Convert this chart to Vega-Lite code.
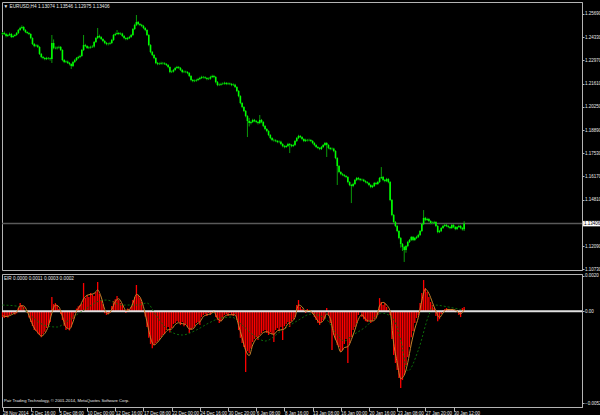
{
"$schema": "https://vega.github.io/schema/vega-lite/v6.json",
"background": "#000000",
"padding": {"left": 0, "top": 1, "right": 0, "bottom": 0},
"spacing": 4,
"bounds": "flush",
"config": {
  "view": {"stroke": "#b4b4b4", "strokeWidth": 1},
  "axis": {"grid": false, "domainColor": "#b4b4b4", "tickColor": "#b4b4b4", "labelColor": "#e8e8e8", "labelFont": "Liberation Sans", "labelFontSize": 4.5, "labelOverlap": false, "labelBound": false, "title": null},
  "text": {"font": "Liberation Sans", "fontSize": 4.7, "color": "#e8e8e8"}
},
"datasets": {
"px": [
{"i":0,"o":1.2450,"h":1.2464,"l":1.2444,"c":1.2458},
{"i":1,"o":1.2458,"h":1.2466,"l":1.2446,"c":1.2452},
{"i":2,"o":1.2452,"h":1.2458,"l":1.2432,"c":1.2440},
{"i":3,"o":1.2440,"h":1.2453,"l":1.2434,"c":1.2446},
{"i":4,"o":1.2446,"h":1.2460,"l":1.2440,"c":1.2452},
{"i":5,"o":1.2452,"h":1.2457,"l":1.2428,"c":1.2434},
{"i":6,"o":1.2434,"h":1.2448,"l":1.2429,"c":1.2440},
{"i":7,"o":1.2440,"h":1.2452,"l":1.2436,"c":1.2446},
{"i":8,"o":1.2446,"h":1.2463,"l":1.2441,"c":1.2458},
{"i":9,"o":1.2458,"h":1.2481,"l":1.2452,"c":1.2475},
{"i":10,"o":1.2475,"h":1.2494,"l":1.2470,"c":1.2487},
{"i":11,"o":1.2487,"h":1.2502,"l":1.2481,"c":1.2493},
{"i":12,"o":1.2493,"h":1.2498,"l":1.2469,"c":1.2475},
{"i":13,"o":1.2475,"h":1.2480,"l":1.2457,"c":1.2463},
{"i":14,"o":1.2463,"h":1.2468,"l":1.2451,"c":1.2458},
{"i":15,"o":1.2458,"h":1.2464,"l":1.2445,"c":1.2452},
{"i":16,"o":1.2452,"h":1.2456,"l":1.2421,"c":1.2428},
{"i":17,"o":1.2428,"h":1.2432,"l":1.2387,"c":1.2393},
{"i":18,"o":1.2393,"h":1.2399,"l":1.2374,"c":1.2381},
{"i":19,"o":1.2381,"h":1.2392,"l":1.2376,"c":1.2385},
{"i":20,"o":1.2385,"h":1.2390,"l":1.2370,"c":1.2376},
{"i":21,"o":1.2376,"h":1.2380,"l":1.2329,"c":1.2335},
{"i":22,"o":1.2335,"h":1.2340,"l":1.2310,"c":1.2317},
{"i":23,"o":1.2317,"h":1.2323,"l":1.2304,"c":1.2311},
{"i":24,"o":1.2311,"h":1.2316,"l":1.2298,"c":1.2305},
{"i":25,"o":1.2305,"h":1.2318,"l":1.2299,"c":1.2311},
{"i":26,"o":1.2311,"h":1.2317,"l":1.2302,"c":1.2309},
{"i":27,"o":1.2309,"h":1.2314,"l":1.2296,"c":1.2305},
{"i":28,"o":1.2305,"h":1.2446,"l":1.2282,"c":1.2399},
{"i":29,"o":1.2399,"h":1.2420,"l":1.2362,"c":1.2370},
{"i":30,"o":1.2370,"h":1.2378,"l":1.2362,"c":1.2368},
{"i":31,"o":1.2368,"h":1.2379,"l":1.2361,"c":1.2372},
{"i":32,"o":1.2372,"h":1.2383,"l":1.2366,"c":1.2376},
{"i":33,"o":1.2376,"h":1.2381,"l":1.2352,"c":1.2358},
{"i":34,"o":1.2358,"h":1.2362,"l":1.2292,"c":1.2299},
{"i":35,"o":1.2299,"h":1.2305,"l":1.2281,"c":1.2288},
{"i":36,"o":1.2288,"h":1.2297,"l":1.2282,"c":1.2290},
{"i":37,"o":1.2290,"h":1.2296,"l":1.2276,"c":1.2282},
{"i":38,"o":1.2282,"h":1.2288,"l":1.2268,"c":1.2276},
{"i":39,"o":1.2276,"h":1.2280,"l":1.2247,"c":1.2264},
{"i":40,"o":1.2264,"h":1.2294,"l":1.2258,"c":1.2288},
{"i":41,"o":1.2288,"h":1.2306,"l":1.2282,"c":1.2299},
{"i":42,"o":1.2299,"h":1.2317,"l":1.2293,"c":1.2311},
{"i":43,"o":1.2311,"h":1.2324,"l":1.2305,"c":1.2317},
{"i":44,"o":1.2317,"h":1.2330,"l":1.2310,"c":1.2323},
{"i":45,"o":1.2323,"h":1.2364,"l":1.2318,"c":1.2358},
{"i":46,"o":1.2358,"h":1.2446,"l":1.2352,"c":1.2387},
{"i":47,"o":1.2387,"h":1.2394,"l":1.2375,"c":1.2381},
{"i":48,"o":1.2381,"h":1.2386,"l":1.2364,"c":1.2370},
{"i":49,"o":1.2370,"h":1.2380,"l":1.2363,"c":1.2372},
{"i":50,"o":1.2372,"h":1.2383,"l":1.2366,"c":1.2376},
{"i":51,"o":1.2376,"h":1.2386,"l":1.2370,"c":1.2378},
{"i":52,"o":1.2378,"h":1.2411,"l":1.2372,"c":1.2405},
{"i":53,"o":1.2405,"h":1.2434,"l":1.2399,"c":1.2428},
{"i":54,"o":1.2428,"h":1.2487,"l":1.2422,"c":1.2440},
{"i":55,"o":1.2440,"h":1.2448,"l":1.2427,"c":1.2434},
{"i":56,"o":1.2434,"h":1.2439,"l":1.2416,"c":1.2422},
{"i":57,"o":1.2422,"h":1.2427,"l":1.2404,"c":1.2411},
{"i":58,"o":1.2411,"h":1.2416,"l":1.2392,"c":1.2399},
{"i":59,"o":1.2399,"h":1.2405,"l":1.2386,"c":1.2393},
{"i":60,"o":1.2393,"h":1.2401,"l":1.2385,"c":1.2395},
{"i":61,"o":1.2395,"h":1.2406,"l":1.2389,"c":1.2399},
{"i":62,"o":1.2399,"h":1.2423,"l":1.2393,"c":1.2417},
{"i":63,"o":1.2417,"h":1.2452,"l":1.2411,"c":1.2446},
{"i":64,"o":1.2446,"h":1.2460,"l":1.2440,"c":1.2452},
{"i":65,"o":1.2452,"h":1.2475,"l":1.2446,"c":1.2458},
{"i":66,"o":1.2458,"h":1.2464,"l":1.2445,"c":1.2452},
{"i":67,"o":1.2452,"h":1.2461,"l":1.2446,"c":1.2454},
{"i":68,"o":1.2454,"h":1.2459,"l":1.2434,"c":1.2440},
{"i":69,"o":1.2440,"h":1.2446,"l":1.2421,"c":1.2428},
{"i":70,"o":1.2428,"h":1.2433,"l":1.2415,"c":1.2422},
{"i":71,"o":1.2422,"h":1.2435,"l":1.2416,"c":1.2428},
{"i":72,"o":1.2428,"h":1.2441,"l":1.2422,"c":1.2434},
{"i":73,"o":1.2434,"h":1.2452,"l":1.2429,"c":1.2446},
{"i":74,"o":1.2446,"h":1.2487,"l":1.2440,"c":1.2481},
{"i":75,"o":1.2481,"h":1.2512,"l":1.2475,"c":1.2505},
{"i":76,"o":1.2505,"h":1.2563,"l":1.2499,"c":1.2522},
{"i":77,"o":1.2522,"h":1.2528,"l":1.2503,"c":1.2510},
{"i":78,"o":1.2510,"h":1.2516,"l":1.2498,"c":1.2505},
{"i":79,"o":1.2505,"h":1.2511,"l":1.2492,"c":1.2499},
{"i":80,"o":1.2499,"h":1.2505,"l":1.2480,"c":1.2487},
{"i":81,"o":1.2487,"h":1.2492,"l":1.2468,"c":1.2475},
{"i":82,"o":1.2475,"h":1.2480,"l":1.2440,"c":1.2446},
{"i":83,"o":1.2446,"h":1.2451,"l":1.2380,"c":1.2387},
{"i":84,"o":1.2387,"h":1.2392,"l":1.2339,"c":1.2346},
{"i":85,"o":1.2346,"h":1.2352,"l":1.2322,"c":1.2329},
{"i":86,"o":1.2329,"h":1.2334,"l":1.2304,"c":1.2311},
{"i":87,"o":1.2311,"h":1.2316,"l":1.2275,"c":1.2282},
{"i":88,"o":1.2282,"h":1.2288,"l":1.2269,"c":1.2276},
{"i":89,"o":1.2276,"h":1.2285,"l":1.2270,"c":1.2278},
{"i":90,"o":1.2278,"h":1.2289,"l":1.2272,"c":1.2282},
{"i":91,"o":1.2282,"h":1.2288,"l":1.2273,"c":1.2280},
{"i":92,"o":1.2280,"h":1.2286,"l":1.2270,"c":1.2276},
{"i":93,"o":1.2276,"h":1.2281,"l":1.2264,"c":1.2270},
{"i":94,"o":1.2270,"h":1.2275,"l":1.2251,"c":1.2258},
{"i":95,"o":1.2258,"h":1.2262,"l":1.2222,"c":1.2229},
{"i":96,"o":1.2229,"h":1.2238,"l":1.2223,"c":1.2231},
{"i":97,"o":1.2231,"h":1.2247,"l":1.2226,"c":1.2241},
{"i":98,"o":1.2241,"h":1.2259,"l":1.2236,"c":1.2253},
{"i":99,"o":1.2253,"h":1.2265,"l":1.2247,"c":1.2258},
{"i":100,"o":1.2258,"h":1.2264,"l":1.2247,"c":1.2253},
{"i":101,"o":1.2253,"h":1.2258,"l":1.2235,"c":1.2241},
{"i":102,"o":1.2241,"h":1.2246,"l":1.2222,"c":1.2229},
{"i":103,"o":1.2229,"h":1.2238,"l":1.2223,"c":1.2231},
{"i":104,"o":1.2231,"h":1.2237,"l":1.2222,"c":1.2229},
{"i":105,"o":1.2229,"h":1.2234,"l":1.2216,"c":1.2223},
{"i":106,"o":1.2223,"h":1.2228,"l":1.2199,"c":1.2206},
{"i":107,"o":1.2206,"h":1.2211,"l":1.2175,"c":1.2182},
{"i":108,"o":1.2182,"h":1.2188,"l":1.2169,"c":1.2176},
{"i":109,"o":1.2176,"h":1.2185,"l":1.2170,"c":1.2178},
{"i":110,"o":1.2178,"h":1.2189,"l":1.2172,"c":1.2182},
{"i":111,"o":1.2182,"h":1.2195,"l":1.2176,"c":1.2188},
{"i":112,"o":1.2188,"h":1.2201,"l":1.2182,"c":1.2194},
{"i":113,"o":1.2194,"h":1.2207,"l":1.2188,"c":1.2200},
{"i":114,"o":1.2200,"h":1.2206,"l":1.2191,"c":1.2198},
{"i":115,"o":1.2198,"h":1.2204,"l":1.2188,"c":1.2194},
{"i":116,"o":1.2194,"h":1.2199,"l":1.2181,"c":1.2188},
{"i":117,"o":1.2188,"h":1.2197,"l":1.2182,"c":1.2190},
{"i":118,"o":1.2190,"h":1.2207,"l":1.2184,"c":1.2200},
{"i":119,"o":1.2200,"h":1.2213,"l":1.2194,"c":1.2206},
{"i":120,"o":1.2206,"h":1.2212,"l":1.2193,"c":1.2200},
{"i":121,"o":1.2200,"h":1.2205,"l":1.2163,"c":1.2170},
{"i":122,"o":1.2170,"h":1.2176,"l":1.2146,"c":1.2153},
{"i":123,"o":1.2153,"h":1.2162,"l":1.2147,"c":1.2155},
{"i":124,"o":1.2155,"h":1.2166,"l":1.2149,"c":1.2159},
{"i":125,"o":1.2159,"h":1.2168,"l":1.2153,"c":1.2161},
{"i":126,"o":1.2161,"h":1.2172,"l":1.2155,"c":1.2165},
{"i":127,"o":1.2165,"h":1.2170,"l":1.2152,"c":1.2159},
{"i":128,"o":1.2159,"h":1.2168,"l":1.2153,"c":1.2161},
{"i":129,"o":1.2161,"h":1.2167,"l":1.2152,"c":1.2159},
{"i":130,"o":1.2159,"h":1.2164,"l":1.2146,"c":1.2153},
{"i":131,"o":1.2153,"h":1.2162,"l":1.2147,"c":1.2155},
{"i":132,"o":1.2155,"h":1.2160,"l":1.2135,"c":1.2141},
{"i":133,"o":1.2141,"h":1.2146,"l":1.2111,"c":1.2118},
{"i":134,"o":1.2118,"h":1.2123,"l":1.2081,"c":1.2088},
{"i":135,"o":1.2088,"h":1.2093,"l":1.2040,"c":1.2047},
{"i":136,"o":1.2047,"h":1.2052,"l":1.2017,"c":1.2024},
{"i":137,"o":1.2024,"h":1.2029,"l":1.1994,"c":1.2001},
{"i":138,"o":1.2001,"h":1.2006,"l":1.1964,"c":1.1971},
{"i":139,"o":1.1971,"h":1.1976,"l":1.1848,"c":1.1942},
{"i":140,"o":1.1942,"h":1.1960,"l":1.1910,"c":1.1930},
{"i":141,"o":1.1930,"h":1.1944,"l":1.1922,"c":1.1936},
{"i":142,"o":1.1936,"h":1.1955,"l":1.1930,"c":1.1948},
{"i":143,"o":1.1948,"h":1.1954,"l":1.1935,"c":1.1942},
{"i":144,"o":1.1942,"h":1.1948,"l":1.1929,"c":1.1936},
{"i":145,"o":1.1936,"h":1.1942,"l":1.1922,"c":1.1930},
{"i":146,"o":1.1930,"h":1.1977,"l":1.1924,"c":1.1948},
{"i":147,"o":1.1948,"h":1.1954,"l":1.1929,"c":1.1936},
{"i":148,"o":1.1936,"h":1.1941,"l":1.1906,"c":1.1913},
{"i":149,"o":1.1913,"h":1.1918,"l":1.1888,"c":1.1895},
{"i":150,"o":1.1895,"h":1.1900,"l":1.1876,"c":1.1883},
{"i":151,"o":1.1883,"h":1.1888,"l":1.1853,"c":1.1860},
{"i":152,"o":1.1860,"h":1.1865,"l":1.1835,"c":1.1842},
{"i":153,"o":1.1842,"h":1.1847,"l":1.1824,"c":1.1831},
{"i":154,"o":1.1831,"h":1.1838,"l":1.1821,"c":1.1829},
{"i":155,"o":1.1829,"h":1.1835,"l":1.1818,"c":1.1825},
{"i":156,"o":1.1825,"h":1.1830,"l":1.1812,"c":1.1819},
{"i":157,"o":1.1819,"h":1.1828,"l":1.1812,"c":1.1821},
{"i":158,"o":1.1821,"h":1.1826,"l":1.1800,"c":1.1807},
{"i":159,"o":1.1807,"h":1.1812,"l":1.1788,"c":1.1795},
{"i":160,"o":1.1795,"h":1.1801,"l":1.1782,"c":1.1790},
{"i":161,"o":1.1790,"h":1.1802,"l":1.1784,"c":1.1795},
{"i":162,"o":1.1795,"h":1.1814,"l":1.1789,"c":1.1807},
{"i":163,"o":1.1807,"h":1.1813,"l":1.1754,"c":1.1801},
{"i":164,"o":1.1801,"h":1.1807,"l":1.1788,"c":1.1795},
{"i":165,"o":1.1795,"h":1.1808,"l":1.1789,"c":1.1801},
{"i":166,"o":1.1801,"h":1.1831,"l":1.1795,"c":1.1825},
{"i":167,"o":1.1825,"h":1.1848,"l":1.1819,"c":1.1842},
{"i":168,"o":1.1842,"h":1.1861,"l":1.1836,"c":1.1854},
{"i":169,"o":1.1854,"h":1.1860,"l":1.1841,"c":1.1848},
{"i":170,"o":1.1848,"h":1.1853,"l":1.1829,"c":1.1836},
{"i":171,"o":1.1836,"h":1.1841,"l":1.1818,"c":1.1825},
{"i":172,"o":1.1825,"h":1.1838,"l":1.1819,"c":1.1831},
{"i":173,"o":1.1831,"h":1.1837,"l":1.1822,"c":1.1829},
{"i":174,"o":1.1829,"h":1.1838,"l":1.1823,"c":1.1831},
{"i":175,"o":1.1831,"h":1.1836,"l":1.1818,"c":1.1825},
{"i":176,"o":1.1825,"h":1.1830,"l":1.1806,"c":1.1813},
{"i":177,"o":1.1813,"h":1.1818,"l":1.1794,"c":1.1801},
{"i":178,"o":1.1801,"h":1.1806,"l":1.1783,"c":1.1790},
{"i":179,"o":1.1790,"h":1.1795,"l":1.1777,"c":1.1784},
{"i":180,"o":1.1784,"h":1.1789,"l":1.1771,"c":1.1778},
{"i":181,"o":1.1778,"h":1.1796,"l":1.1772,"c":1.1790},
{"i":182,"o":1.1790,"h":1.1807,"l":1.1784,"c":1.1801},
{"i":183,"o":1.1801,"h":1.1819,"l":1.1795,"c":1.1813},
{"i":184,"o":1.1813,"h":1.1818,"l":1.1731,"c":1.1801},
{"i":185,"o":1.1801,"h":1.1806,"l":1.1777,"c":1.1784},
{"i":186,"o":1.1784,"h":1.1789,"l":1.1771,"c":1.1778},
{"i":187,"o":1.1778,"h":1.1787,"l":1.1771,"c":1.1780},
{"i":188,"o":1.1780,"h":1.1785,"l":1.1759,"c":1.1766},
{"i":189,"o":1.1766,"h":1.1771,"l":1.1718,"c":1.1725},
{"i":190,"o":1.1725,"h":1.1730,"l":1.1567,"c":1.1678},
{"i":191,"o":1.1678,"h":1.1684,"l":1.1636,"c":1.1643},
{"i":192,"o":1.1643,"h":1.1648,"l":1.1624,"c":1.1631},
{"i":193,"o":1.1631,"h":1.1637,"l":1.1619,"c":1.1626},
{"i":194,"o":1.1626,"h":1.1631,"l":1.1613,"c":1.1620},
{"i":195,"o":1.1620,"h":1.1625,"l":1.1607,"c":1.1614},
{"i":196,"o":1.1614,"h":1.1619,"l":1.1577,"c":1.1584},
{"i":197,"o":1.1584,"h":1.1589,"l":1.1560,"c":1.1567},
{"i":198,"o":1.1567,"h":1.1573,"l":1.1461,"c":1.1561},
{"i":199,"o":1.1561,"h":1.1580,"l":1.1554,"c":1.1573},
{"i":200,"o":1.1573,"h":1.1602,"l":1.1567,"c":1.1596},
{"i":201,"o":1.1596,"h":1.1614,"l":1.1590,"c":1.1608},
{"i":202,"o":1.1608,"h":1.1614,"l":1.1595,"c":1.1602},
{"i":203,"o":1.1602,"h":1.1608,"l":1.1589,"c":1.1596},
{"i":204,"o":1.1596,"h":1.1605,"l":1.1590,"c":1.1598},
{"i":205,"o":1.1598,"h":1.1603,"l":1.1584,"c":1.1590},
{"i":206,"o":1.1590,"h":1.1595,"l":1.1577,"c":1.1584},
{"i":207,"o":1.1584,"h":1.1590,"l":1.1572,"c":1.1579},
{"i":208,"o":1.1579,"h":1.1584,"l":1.1560,"c":1.1567},
{"i":209,"o":1.1567,"h":1.1572,"l":1.1548,"c":1.1555},
{"i":210,"o":1.1555,"h":1.1568,"l":1.1549,"c":1.1561},
{"i":211,"o":1.1561,"h":1.1585,"l":1.1555,"c":1.1579},
{"i":212,"o":1.1579,"h":1.1585,"l":1.1566,"c":1.1573},
{"i":213,"o":1.1573,"h":1.1591,"l":1.1567,"c":1.1584},
{"i":214,"o":1.1584,"h":1.1614,"l":1.1578,"c":1.1608},
{"i":215,"o":1.1608,"h":1.1672,"l":1.1602,"c":1.1614},
{"i":216,"o":1.1614,"h":1.1620,"l":1.1589,"c":1.1596},
{"i":217,"o":1.1596,"h":1.1602,"l":1.1583,"c":1.1590},
{"i":218,"o":1.1590,"h":1.1609,"l":1.1584,"c":1.1602},
{"i":219,"o":1.1602,"h":1.1607,"l":1.1577,"c":1.1584},
{"i":220,"o":1.1584,"h":1.1590,"l":1.1472,"c":1.1479},
{"i":221,"o":1.1479,"h":1.1485,"l":1.1384,"c":1.1391},
{"i":222,"o":1.1391,"h":1.1397,"l":1.1343,"c":1.1350},
{"i":223,"o":1.1350,"h":1.1356,"l":1.1320,"c":1.1327},
{"i":224,"o":1.1327,"h":1.1333,"l":1.1290,"c":1.1297},
{"i":225,"o":1.1297,"h":1.1302,"l":1.1249,"c":1.1256},
{"i":226,"o":1.1256,"h":1.1262,"l":1.1200,"c":1.1221},
{"i":227,"o":1.1221,"h":1.1227,"l":1.1180,"c":1.1204},
{"i":228,"o":1.1204,"h":1.1210,"l":1.1116,"c":1.1186},
{"i":229,"o":1.1186,"h":1.1215,"l":1.1170,"c":1.1209},
{"i":230,"o":1.1209,"h":1.1239,"l":1.1202,"c":1.1233},
{"i":231,"o":1.1233,"h":1.1251,"l":1.1227,"c":1.1245},
{"i":232,"o":1.1245,"h":1.1268,"l":1.1239,"c":1.1262},
{"i":233,"o":1.1262,"h":1.1268,"l":1.1238,"c":1.1245},
{"i":234,"o":1.1245,"h":1.1263,"l":1.1239,"c":1.1256},
{"i":235,"o":1.1256,"h":1.1269,"l":1.1250,"c":1.1262},
{"i":236,"o":1.1262,"h":1.1281,"l":1.1256,"c":1.1274},
{"i":237,"o":1.1274,"h":1.1303,"l":1.1268,"c":1.1297},
{"i":238,"o":1.1297,"h":1.1344,"l":1.1291,"c":1.1338},
{"i":239,"o":1.1338,"h":1.1420,"l":1.1332,"c":1.1374},
{"i":240,"o":1.1374,"h":1.1380,"l":1.1355,"c":1.1362},
{"i":241,"o":1.1362,"h":1.1375,"l":1.1356,"c":1.1368},
{"i":242,"o":1.1368,"h":1.1373,"l":1.1349,"c":1.1356},
{"i":243,"o":1.1356,"h":1.1361,"l":1.1337,"c":1.1344},
{"i":244,"o":1.1344,"h":1.1353,"l":1.1338,"c":1.1346},
{"i":245,"o":1.1346,"h":1.1357,"l":1.1340,"c":1.1350},
{"i":246,"o":1.1350,"h":1.1355,"l":1.1320,"c":1.1327},
{"i":247,"o":1.1327,"h":1.1332,"l":1.1284,"c":1.1291},
{"i":248,"o":1.1291,"h":1.1304,"l":1.1285,"c":1.1297},
{"i":249,"o":1.1297,"h":1.1321,"l":1.1291,"c":1.1315},
{"i":250,"o":1.1315,"h":1.1333,"l":1.1309,"c":1.1327},
{"i":251,"o":1.1327,"h":1.1340,"l":1.1321,"c":1.1333},
{"i":252,"o":1.1333,"h":1.1339,"l":1.1320,"c":1.1327},
{"i":253,"o":1.1327,"h":1.1332,"l":1.1314,"c":1.1321},
{"i":254,"o":1.1321,"h":1.1326,"l":1.1308,"c":1.1315},
{"i":255,"o":1.1315,"h":1.1339,"l":1.1309,"c":1.1333},
{"i":256,"o":1.1333,"h":1.1338,"l":1.1314,"c":1.1321},
{"i":257,"o":1.1321,"h":1.1326,"l":1.1302,"c":1.1309},
{"i":258,"o":1.1309,"h":1.1327,"l":1.1303,"c":1.1321},
{"i":259,"o":1.1321,"h":1.1334,"l":1.1315,"c":1.1327},
{"i":260,"o":1.1327,"h":1.1332,"l":1.1308,"c":1.1315},
{"i":261,"o":1.1315,"h":1.1320,"l":1.1300,"c":1.1307},
{"i":262,"o":1.13074,"h":1.13546,"l":1.12975,"c":1.13406}
],
"ind": [
{"i":0,"h":-0.00033},{"i":1,"h":-0.00038},{"i":2,"h":-0.00027},{"i":3,"h":-0.00035},{"i":4,"h":-0.00021},
{"i":5,"h":-0.00016},{"i":6,"h":-0.0001},{"i":7,"h":-0.00018},{"i":8,"h":-0.00012},{"i":9,"h":0.0002},
{"i":10,"h":0.00046},{"i":11,"h":0.00035},{"i":12,"h":0.00024},{"i":13,"h":0.00005},{"i":14,"h":-0.00008},
{"i":15,"h":-0.00035},{"i":16,"h":-0.0006},{"i":17,"h":-0.00084},{"i":18,"h":-0.00106},{"i":19,"h":-0.00112},
{"i":20,"h":-0.00125},{"i":21,"h":-0.00134},{"i":22,"h":-0.00146},{"i":23,"h":-0.0013},{"i":24,"h":-0.00115},
{"i":25,"h":-0.00095},{"i":26,"h":-0.00078},{"i":27,"h":-0.0006},{"i":28,"h":0.0008},{"i":29,"h":0.0004},
{"i":30,"h":0.00046},{"i":31,"h":0.00035},{"i":32,"h":0.00012},{"i":33,"h":-0.00015},{"i":34,"h":-0.0005},
{"i":35,"h":-0.00082},{"i":36,"h":-0.00106},{"i":37,"h":-0.00094},{"i":38,"h":-0.00108},{"i":39,"h":-0.0009},
{"i":40,"h":-0.00045},{"i":41,"h":-0.00008},{"i":42,"h":0.00015},{"i":43,"h":0.00028},{"i":44,"h":0.00035},
{"i":45,"h":0.00042},{"i":46,"h":0.00159},{"i":47,"h":0.00074},{"i":48,"h":0.00091},{"i":49,"h":0.0008},
{"i":50,"h":0.00103},{"i":51,"h":0.00095},{"i":52,"h":0.00086},{"i":53,"h":0.00108},{"i":54,"h":0.00165},
{"i":55,"h":0.00097},{"i":56,"h":0.00063},{"i":57,"h":0.0004},{"i":58,"h":-0.00012},{"i":59,"h":-0.00021},
{"i":60,"h":-0.00015},{"i":61,"h":-0.00008},{"i":62,"h":0.0003},{"i":63,"h":0.00058},{"i":64,"h":0.00068},
{"i":65,"h":0.00086},{"i":66,"h":0.00063},{"i":67,"h":0.00046},{"i":68,"h":0.00035},{"i":69,"h":0.0001},
{"i":70,"h":-0.0001},{"i":71,"h":0.00015},{"i":72,"h":0.00008},{"i":73,"h":0.00024},{"i":74,"h":0.00063},
{"i":75,"h":0.0008},{"i":76,"h":0.00148},{"i":77,"h":0.00091},{"i":78,"h":0.00074},{"i":79,"h":0.00052},
{"i":80,"h":0.00005},{"i":81,"h":-0.0003},{"i":82,"h":-0.00089},{"i":83,"h":-0.0015},{"i":84,"h":-0.00185},
{"i":85,"h":-0.00208},{"i":86,"h":-0.00191},{"i":87,"h":-0.00179},{"i":88,"h":-0.0017},{"i":89,"h":-0.00162},
{"i":90,"h":-0.00146},{"i":91,"h":-0.00134},{"i":92,"h":-0.00128},{"i":93,"h":-0.00106},{"i":94,"h":-0.00089},
{"i":95,"h":-0.0012},{"i":96,"h":-0.00095},{"i":97,"h":-0.00072},{"i":98,"h":-0.00067},{"i":99,"h":-0.00056},
{"i":100,"h":-0.00061},{"i":101,"h":-0.00078},{"i":102,"h":-0.00061},{"i":103,"h":-0.00084},{"i":104,"h":-0.00072},
{"i":105,"h":-0.00089},{"i":106,"h":-0.00123},{"i":107,"h":-0.00106},{"i":108,"h":-0.00095},{"i":109,"h":-0.00084},
{"i":110,"h":-0.00067},{"i":111,"h":-0.00061},{"i":112,"h":-0.00078},{"i":113,"h":-0.00033},{"i":114,"h":-0.00021},
{"i":115,"h":-0.00016},{"i":116,"h":-0.00027},{"i":117,"h":-0.0001},{"i":118,"h":-0.00021},{"i":119,"h":-0.0001},
{"i":120,"h":0.00007},{"i":121,"h":-0.00033},{"i":122,"h":-0.0005},{"i":123,"h":-0.00067},{"i":124,"h":-0.00056},
{"i":125,"h":-0.00038},{"i":126,"h":-0.00021},{"i":127,"h":-0.00016},{"i":128,"h":-0.00027},{"i":129,"h":-0.0001},
{"i":130,"h":-0.00021},{"i":131,"h":-0.00027},{"i":132,"h":-0.00016},{"i":133,"h":-0.0005},{"i":134,"h":-0.00106},
{"i":135,"h":-0.0015},{"i":136,"h":-0.00179},{"i":137,"h":-0.00202},{"i":138,"h":-0.00342},{"i":139,"h":-0.00225},
{"i":140,"h":-0.00236},{"i":141,"h":-0.0021},{"i":142,"h":-0.00174},{"i":143,"h":-0.00156},{"i":144,"h":-0.00146},
{"i":145,"h":-0.00162},{"i":146,"h":-0.00134},{"i":147,"h":-0.00123},{"i":148,"h":-0.00112},{"i":149,"h":-0.00106},
{"i":150,"h":-0.00123},{"i":151,"h":-0.00134},{"i":152,"h":-0.00118},{"i":153,"h":-0.00128},{"i":154,"h":-0.00174},
{"i":155,"h":-0.00106},{"i":156,"h":-0.00095},{"i":157,"h":-0.00112},{"i":158,"h":-0.00089},{"i":159,"h":-0.00162},
{"i":160,"h":-0.00084},{"i":161,"h":-0.00072},{"i":162,"h":-0.00061},{"i":163,"h":-0.00089},{"i":164,"h":-0.00056},
{"i":165,"h":-0.00045},{"i":166,"h":-0.00033},{"i":167,"h":0.00035},{"i":168,"h":0.00063},{"i":169,"h":0.00024},
{"i":170,"h":0.00012},{"i":171,"h":0.00005},{"i":172,"h":-0.0001},{"i":173,"h":0.00012},{"i":174,"h":0.00007},
{"i":175,"h":-0.00005},{"i":176,"h":-0.00016},{"i":177,"h":-0.00033},{"i":178,"h":-0.0005},{"i":179,"h":-0.00067},
{"i":180,"h":-0.00078},{"i":181,"h":-0.00061},{"i":182,"h":-0.0005},{"i":183,"h":-0.00038},{"i":184,"h":0.00018},
{"i":185,"h":-0.00021},{"i":186,"h":-0.00067},{"i":187,"h":-0.00219},{"i":188,"h":-0.00134},{"i":189,"h":-0.00162},
{"i":190,"h":-0.00191},{"i":191,"h":-0.00202},{"i":192,"h":-0.0023},{"i":193,"h":-0.00219},{"i":194,"h":-0.00185},
{"i":195,"h":-0.00156},{"i":196,"h":-0.00292},{"i":197,"h":-0.00179},{"i":198,"h":-0.00146},{"i":199,"h":-0.00106},
{"i":200,"h":-0.00089},{"i":201,"h":-0.00067},{"i":202,"h":-0.00021},{"i":203,"h":-0.00005},{"i":204,"h":-0.00033},
{"i":205,"h":-0.00045},{"i":206,"h":-0.00056},{"i":207,"h":-0.00061},{"i":208,"h":-0.0005},{"i":209,"h":-0.00067},
{"i":210,"h":-0.00056},{"i":211,"h":-0.00045},{"i":212,"h":-0.00038},{"i":213,"h":-0.00021},{"i":214,"h":0.00074},
{"i":215,"h":0.00052},{"i":216,"h":0.00035},{"i":217,"h":0.00046},{"i":218,"h":0.00024},{"i":219,"h":0.00005},
{"i":220,"h":-0.00021},{"i":221,"h":-0.00156},{"i":222,"h":-0.00247},{"i":223,"h":-0.00292},{"i":224,"h":-0.00331},
{"i":225,"h":-0.00377},{"i":226,"h":-0.00433},{"i":227,"h":-0.00388},{"i":228,"h":-0.00359},{"i":229,"h":-0.00303},
{"i":230,"h":-0.00258},{"i":231,"h":-0.00202},{"i":232,"h":-0.00146},{"i":233,"h":-0.00112},{"i":234,"h":-0.00067},
{"i":235,"h":-0.00038},{"i":236,"h":-0.00021},{"i":237,"h":0.00046},{"i":238,"h":0.00103},{"i":239,"h":0.00176},
{"i":240,"h":0.00131},{"i":241,"h":0.00108},{"i":242,"h":0.0008},{"i":243,"h":0.00052},{"i":244,"h":0.00035},
{"i":245,"h":0.00018},{"i":246,"h":-0.00027},{"i":247,"h":-0.00056},{"i":248,"h":-0.00045},{"i":249,"h":-0.00016},
{"i":250,"h":0.00007},{"i":251,"h":0.00012},{"i":252,"h":0.00018},{"i":253,"h":0.00012},{"i":254,"h":0.00005},
{"i":255,"h":0.00012},{"i":256,"h":0.00007},{"i":257,"h":-0.00005},{"i":258,"h":0.00005},{"i":259,"h":-0.00021},
{"i":260,"h":-0.00033},{"i":261,"h":0.00018},{"i":262,"h":0.00024}
],
"sig": [
{"i":0,"s":-0.00025},{"i":2,"s":-0.0003},{"i":4,"s":-0.00025},{"i":6,"s":-0.00015},{"i":8,"s":-0.00005},
{"i":10,"s":0.0003},{"i":12,"s":0.0003},{"i":14,"s":0.0},{"i":16,"s":-0.0005},{"i":18,"s":-0.00095},
{"i":20,"s":-0.0012},{"i":22,"s":-0.0014},{"i":24,"s":-0.00125},{"i":26,"s":-0.00085},{"i":28,"s":-0.0001},
{"i":30,"s":0.00035},{"i":32,"s":0.00025},{"i":34,"s":-0.0003},{"i":36,"s":-0.0009},{"i":38,"s":-0.001},
{"i":40,"s":-0.0006},{"i":42,"s":0.0},{"i":44,"s":0.0003},{"i":46,"s":0.0007},{"i":48,"s":0.0009},
{"i":50,"s":0.00095},{"i":52,"s":0.001},{"i":54,"s":0.0012},{"i":56,"s":0.0008},{"i":58,"s":0.0001},
{"i":60,"s":-0.00015},{"i":62,"s":0.0001},{"i":64,"s":0.00055},{"i":66,"s":0.0007},{"i":68,"s":0.0004},
{"i":70,"s":0.00005},{"i":72,"s":0.0001},{"i":74,"s":0.00045},{"i":76,"s":0.00095},{"i":78,"s":0.0008},
{"i":80,"s":0.00025},{"i":82,"s":-0.0006},{"i":84,"s":-0.0015},{"i":86,"s":-0.0019},{"i":88,"s":-0.00175},
{"i":90,"s":-0.0015},{"i":92,"s":-0.00125},{"i":94,"s":-0.00105},{"i":96,"s":-0.001},{"i":98,"s":-0.00075},
{"i":100,"s":-0.00065},{"i":102,"s":-0.0007},{"i":104,"s":-0.00075},{"i":106,"s":-0.001},{"i":108,"s":-0.001},
{"i":110,"s":-0.00075},{"i":112,"s":-0.0006},{"i":114,"s":-0.0003},{"i":116,"s":-0.0002},{"i":118,"s":-0.00015},
{"i":120,"s":-0.00005},{"i":122,"s":-0.0004},{"i":124,"s":-0.00055},{"i":126,"s":-0.0003},{"i":128,"s":-0.0002},
{"i":130,"s":-0.0002},{"i":132,"s":-0.0002},{"i":134,"s":-0.0008},{"i":136,"s":-0.0015},{"i":138,"s":-0.0022},
{"i":140,"s":-0.0025},{"i":142,"s":-0.0019},{"i":144,"s":-0.00155},{"i":146,"s":-0.0014},{"i":148,"s":-0.0012},
{"i":150,"s":-0.00115},{"i":152,"s":-0.00125},{"i":154,"s":-0.0013},{"i":156,"s":-0.0011},{"i":158,"s":-0.00105},
{"i":160,"s":-0.001},{"i":162,"s":-0.0007},{"i":164,"s":-0.0006},{"i":166,"s":-0.00035},{"i":168,"s":0.00035},
{"i":170,"s":0.00025},{"i":172,"s":0.0},{"i":174,"s":0.00005},{"i":176,"s":-0.0001},{"i":178,"s":-0.0004},
{"i":180,"s":-0.00065},{"i":182,"s":-0.00055},{"i":184,"s":-0.00015},{"i":186,"s":-0.0004},{"i":188,"s":-0.0013},
{"i":190,"s":-0.0018},{"i":192,"s":-0.0023},{"i":194,"s":-0.00205},{"i":196,"s":-0.002},{"i":198,"s":-0.0016},
{"i":200,"s":-0.00105},{"i":202,"s":-0.00045},{"i":204,"s":-0.0002},{"i":206,"s":-0.00045},{"i":208,"s":-0.00055},
{"i":210,"s":-0.00055},{"i":212,"s":-0.0004},{"i":214,"s":0.0003},{"i":216,"s":0.0005},{"i":218,"s":0.00035},
{"i":220,"s":0.0},{"i":222,"s":-0.0018},{"i":224,"s":-0.0029},{"i":226,"s":-0.0038},{"i":228,"s":-0.0036},
{"i":230,"s":-0.0029},{"i":232,"s":-0.00185},{"i":234,"s":-0.001},{"i":236,"s":-0.00035},{"i":238,"s":0.0006},
{"i":240,"s":0.00125},{"i":242,"s":0.001},{"i":244,"s":0.0005},{"i":246,"s":0.0},{"i":248,"s":-0.00035},
{"i":250,"s":-0.0001},{"i":252,"s":0.0001},{"i":254,"s":0.0001},{"i":256,"s":0.0001},{"i":258,"s":0.0},
{"i":260,"s":-0.00015},{"i":262,"s":0.0001}
],
"slow": [
{"i":0,"d":0.00035},{"i":8,"d":0.00029},{"i":14,"d":-0.00005},{"i":19,"d":-0.0005},{"i":25,"d":-0.00083},
{"i":31,"d":-0.00089},{"i":36,"d":-0.00061},{"i":41,"d":-0.00027},{"i":48,"d":0.00018},{"i":55,"d":0.00058},
{"i":59,"d":0.00063},{"i":68,"d":0.00035},{"i":76,"d":0.00035},{"i":82,"d":0.00046},{"i":87,"d":-0.00021},
{"i":94,"d":-0.00106},{"i":102,"d":-0.00134},{"i":110,"d":-0.00106},{"i":117,"d":-0.00067},{"i":124,"d":-0.00038},
{"i":130,"d":-0.00033},{"i":136,"d":-0.00078},{"i":144,"d":-0.00146},{"i":149,"d":-0.00168},{"i":158,"d":-0.00112},
{"i":168,"d":-0.0005},{"i":175,"d":-0.00016},{"i":183,"d":-0.00038},{"i":190,"d":-0.00134},{"i":194,"d":-0.00168},
{"i":198,"d":-0.0014},{"i":206,"d":-0.00089},{"i":215,"d":-0.0001},{"i":221,"d":-0.00033},{"i":226,"d":-0.00162},
{"i":230,"d":-0.00337},{"i":236,"d":-0.00219},{"i":242,"d":-0.00021},{"i":245,"d":0.00035},{"i":253,"d":0.00024},
{"i":261,"d":0.00007}
]
},
"vconcat": [
{
  "width": 580, "height": 268,
  "layer": [
    {
      "data": {"values": [{"p": 1.13406}]},
      "mark": {"type": "rule", "color": "#5a5a5a", "strokeWidth": 1.5},
      "encoding": {
        "y": {"field": "p", "type": "quantitative",
              "scale": {"domain": [1.10688, 1.26393], "nice": false, "zero": false},
              "axis": {"orient": "right", "values": [1.1073, 1.1209, 1.1481, 1.1617, 1.1753, 1.1889, 1.2025, 1.2161, 1.2297, 1.2433, 1.2569], "tickCount": 30, "format": ".5f", "tickSize": 2, "labelPadding": 0.5, "labelFlush": false, "labelOverlap": false, "labelBound": false, "title": null}}
      }
    },
    {
      "data": {"name": "px"},
      "mark": {"type": "rule", "color": "#0a9a0a", "strokeWidth": 1},
      "encoding": {
        "x": {"field": "i", "type": "quantitative", "scale": {"domain": [-0.3, 328.9], "nice": false, "zero": false}, "axis": null},
        "y": {"field": "l", "type": "quantitative"},
        "y2": {"field": "h"}
      }
    },
    {
      "data": {"name": "px"},
      "mark": {"type": "rule", "color": "#00ff00", "strokeWidth": 1.6},
      "encoding": {
        "x": {"field": "i", "type": "quantitative"},
        "y": {"field": "o", "type": "quantitative"},
        "y2": {"field": "c"}
      }
    },
    {
      "data": {"values": [{"i": 329.5, "i2": 341, "lo": 1.13246, "hi": 1.13566}]},
      "mark": {"type": "rect", "color": "#ffffff"},
      "encoding": {
        "x": {"field": "i", "type": "quantitative"},
        "x2": {"field": "i2"},
        "y": {"field": "lo", "type": "quantitative"},
        "y2": {"field": "hi"}
      }
    },
    {
      "data": {"values": [{"i": 330.0, "p": 1.13406, "t": "1.13406"}]},
      "mark": {"type": "text", "align": "left", "baseline": "middle", "color": "#000000", "fontSize": 4.5},
      "encoding": {
        "x": {"field": "i", "type": "quantitative"},
        "y": {"field": "p", "type": "quantitative"},
        "text": {"field": "t"}
      }
    },
    {
      "data": {"values": [{"i": 0.6, "p": 1.2610, "t": "▼ EURUSD,H4  1.13074 1.13546 1.12975 1.13406"}]},
      "mark": {"type": "text", "align": "left", "baseline": "middle", "fontSize": 4.7},
      "encoding": {
        "x": {"field": "i", "type": "quantitative"},
        "y": {"field": "p", "type": "quantitative"},
        "text": {"field": "t"}
      }
    }
  ]
},
{
  "width": 580, "height": 133,
  "layer": [
    {
      "data": {"name": "ind"},
      "mark": {"type": "rule", "color": "#ff0000", "strokeWidth": 1.3},
      "encoding": {
        "x": {"field": "i", "type": "quantitative",
              "scale": {"domain": [-0.3, 328.9], "nice": false, "zero": false},
              "axis": {"values": [0,16,32,48,64,80,96,112,128,144,160,176,192,208,224,240,256], "tickCount": 40,
                       "labelExpr": "['28 Nov 2014','2 Dec 16:00','5 Dec 08:00','10 Dec 00:00','12 Dec 16:00','17 Dec 08:00','22 Dec 00:00','24 Dec 16:00','30 Dec 20:00','6 Jan 08:00','8 Jan 16:00','13 Jan 08:00','16 Jan 00:00','20 Jan 16:00','23 Jan 08:00','27 Jan 20:00','30 Jan 12:00'][round(datum.value/16)]",
                       "labelAlign": "left", "labelBaseline": "top", "labelDx": 2, "tickSize": 4, "labelPadding": -1, "labelFlush": false, "labelOverlap": false, "labelBound": false, "title": null}},
        "y": {"field": "h", "type": "quantitative",
              "scale": {"domain": [-0.0054, 0.0021], "nice": false, "zero": false},
              "axis": {"orient": "right", "values": [0.002, 0, -0.0052], "tickCount": 10, "labelExpr": "datum.value == 0 ? '0.00' : format(datum.value, '.4f')", "tickSize": 2, "labelPadding": 0.5, "labelFlush": false, "labelOverlap": false, "labelBound": false, "title": null}},
        "y2": {"datum": 0}
      }
    },
    {
      "data": {"values": [{"z": 0}]},
      "mark": {"type": "rule", "color": "#e0e0e0", "strokeWidth": 2},
      "encoding": {"y": {"field": "z", "type": "quantitative"}}
    },
    {
      "data": {"name": "slow"},
      "mark": {"type": "line", "color": "#0b6b0b", "strokeWidth": 1, "strokeDash": [2, 2], "interpolate": "monotone"},
      "encoding": {
        "x": {"field": "i", "type": "quantitative"},
        "y": {"field": "d", "type": "quantitative"}
      }
    },
    {
      "data": {"name": "sig"},
      "mark": {"type": "line", "color": "#c8822a", "strokeWidth": 1, "interpolate": "monotone"},
      "encoding": {
        "x": {"field": "i", "type": "quantitative"},
        "y": {"field": "s", "type": "quantitative"}
      }
    },
    {
      "data": {"values": [{"i": 0.8, "v": 0.00182, "t": "EIR 0.0000 0.0011 0.0003 0.0002", "fs": 4.7}, {"i": 0.8, "v": -0.00506, "t": "Pair Trading Technology, © 2001-2014, MetaQuotes Software Corp.", "fs": 4.2}]},
      "mark": {"type": "text", "align": "left", "baseline": "middle"},
      "encoding": {
        "x": {"field": "i", "type": "quantitative"},
        "y": {"field": "v", "type": "quantitative"},
        "text": {"field": "t"},
        "size": {"field": "fs", "type": "quantitative", "scale": null}
      }
    }
  ]
}
]
}
